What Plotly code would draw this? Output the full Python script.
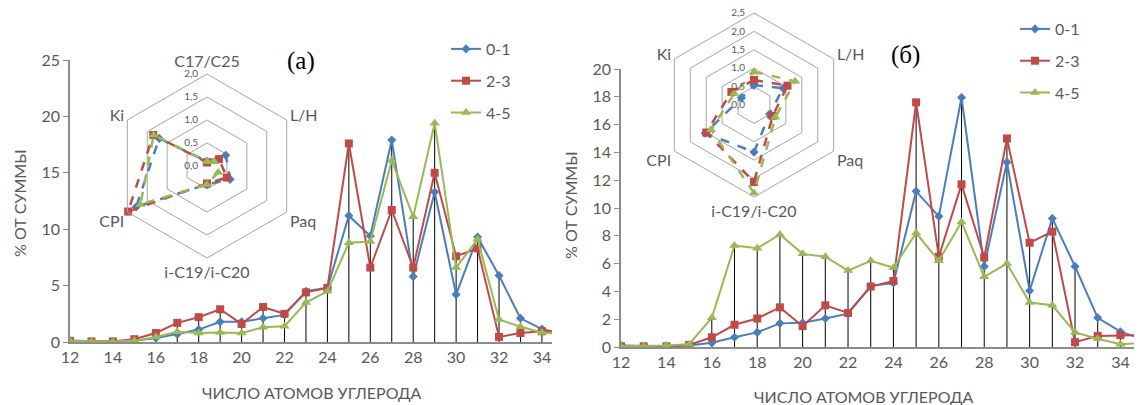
import plotly.graph_objects as go

# window 1142x405; the page body has an 8px margin, so the figure is 8px smaller
WIN_W, WIN_H = 1142, 405
OFF = 8
W, H = WIN_W - OFF, WIN_H - OFF

carbon = list(range(12, 36))

# Panel (a)
a_01 = [0.1, 0.05, 0.05, 0.1, 0.35, 0.7, 1.1, 1.8, 1.8, 2.1, 2.4, 4.5, 4.8, 11.2, 9.4, 17.9, 5.8, 13.3, 4.2, 9.3, 5.9, 2.1, 1.15, 0.75]
a_23 = [0.1, 0.05, 0.05, 0.25, 0.8, 1.7, 2.2, 2.9, 1.6, 3.1, 2.5, 4.4, 4.8, 17.6, 6.6, 11.7, 6.6, 15.0, 7.6, 8.3, 0.45, 0.8, 0.95, 0.9]
a_45 = [0.1, 0.05, 0.05, 0.1, 0.45, 0.9, 0.8, 0.85, 0.8, 1.3, 1.4, 3.5, 4.5, 8.8, 8.9, 16.1, 11.1, 19.4, 6.6, 9.1, 2.0, 1.35, 0.85, 0.7]

# Panel (б)
b_01 = [0.1, 0.05, 0.05, 0.1, 0.3, 0.7, 1.05, 1.7, 1.75, 2.05, 2.4, 4.4, 4.6, 11.2, 9.4, 17.95, 5.8, 13.3, 4.05, 9.25, 5.8, 2.1, 1.1, 0.55]
b_23 = [0.05, 0.05, 0.05, 0.15, 0.7, 1.6, 2.05, 2.85, 1.5, 3.0, 2.45, 4.35, 4.75, 17.6, 6.5, 11.7, 6.45, 15.0, 7.5, 8.3, 0.35, 0.8, 0.85, 0.85]
b_45 = [0.05, 0.05, 0.1, 0.2, 2.1, 7.3, 7.1, 8.1, 6.7, 6.5, 5.5, 6.2, 5.7, 8.2, 6.2, 9.0, 5.05, 6.0, 3.2, 3.0, 1.05, 0.6, 0.2, 0.3]

series_names = ["0-1", "2-3", "4-5"]

# Radar
radar_axes = ["C17/C25", "L/H", "Paq", "i-C19/i-C20", "CPI", "Ki"]
# panel (б): the top label lies outside the cropped picture
radar_labels_b = ["", "L/H", "Paq", "i-C19/i-C20", "CPI", "Ki"]
ra_01 = [0.1, 0.47, 0.58, 0.4, 1.78, 1.2]
ra_23 = [0.08, 0.3, 0.5, 0.38, 1.98, 1.35]
ra_45 = [0.1, 0.18, 0.28, 0.4, 1.67, 1.34]
rb_01 = [0.54, 0.91, 0.49, 1.28, 1.53, 0.39]
rb_23 = [0.68, 1.05, 0.59, 2.09, 1.5, 0.71]
rb_45 = [0.9, 1.29, 0.67, 2.39, 1.35, 0.62]

a_ticks = [0, 5, 10, 15, 20, 25]
b_ticks = [0, 2, 4, 6, 8, 10, 12, 14, 16, 18, 20]
x_ticks = list(range(12, 35, 2))
ra_ticks = [0, 0.5, 1.0, 1.5, 2.0]
rb_ticks = [0, 0.5, 1.0, 1.5, 2.0, 2.5]

colors = ["#4A7EBB", "#BE4B48", "#98B954"]
symbols = ["diamond", "square", "triangle-up"]
msizes = [7, 8, 9]
FONT = "Lato"
GREY = "#595959"


def px_x(p):
    return (p - OFF) / W


def px_y(p):
    return 1 - (p - OFF) / H


fig = go.Figure()


def drop_trace(xs, series, xa, ya):
    dx, dy = [], []
    for i, x in enumerate(xs):
        m = max(s[i] for s in series)
        dx += [x, x, None]
        dy += [0, m, None]
    return go.Scatter(x=dx, y=dy, mode="lines", line=dict(color="black", width=1),
                      xaxis=xa, yaxis=ya, showlegend=False, hoverinfo="skip")


fig.add_trace(drop_trace(carbon, [a_01, a_23, a_45], "x", "y"))
fig.add_trace(drop_trace(carbon, [b_01, b_23, b_45], "x2", "y2"))

for i, s in enumerate([a_01, a_23, a_45]):
    fig.add_trace(go.Scatter(x=carbon, y=s, mode="lines+markers", name=series_names[i],
                             line=dict(color=colors[i], width=2),
                             marker=dict(symbol=symbols[i], size=msizes[i], color=colors[i]),
                             xaxis="x", yaxis="y", legend="legend", legendgroup="a" + str(i)))
for i, s in enumerate([b_01, b_23, b_45]):
    fig.add_trace(go.Scatter(x=carbon, y=s, mode="lines+markers", name=series_names[i],
                             line=dict(color=colors[i], width=2),
                             marker=dict(symbol=symbols[i], size=msizes[i], color=colors[i]),
                             xaxis="x2", yaxis="y2", legend="legend2", legendgroup="b" + str(i)))

for i, s in enumerate([ra_01, ra_23, ra_45]):
    fig.add_trace(go.Scatterpolar(r=s + [s[0]], theta=radar_axes + [radar_axes[0]],
                                  mode="lines+markers", subplot="polar", showlegend=False,
                                  line=dict(color=colors[i], width=2.5, dash="dash"),
                                  marker=dict(symbol=symbols[i], size=msizes[i], color=colors[i])))
for i, s in enumerate([rb_01, rb_23, rb_45]):
    fig.add_trace(go.Scatterpolar(r=s + [s[0]], theta=radar_axes + [radar_axes[0]],
                                  mode="lines+markers", subplot="polar2", showlegend=False,
                                  line=dict(color=colors[i], width=2.5, dash="dash"),
                                  marker=dict(symbol=symbols[i], size=msizes[i], color=colors[i])))

tickfont = dict(family=FONT, size=16, color=GREY)

xcommon = dict(tickvals=x_ticks, showgrid=False, zeroline=False, showline=True, automargin=False,
               linecolor="#8C8C8C", linewidth=1.5, ticks="", tickfont=tickfont)
ycommon = dict(showgrid=False, zeroline=False, showline=True, linecolor="#8C8C8C", automargin=False,
               linewidth=1.5, ticks="outside", ticklen=5, tickcolor="#8C8C8C", tickfont=tickfont)


def radial(ticks, rng):
    return dict(range=rng, tickvals=ticks, ticktext=[f"{t:.1f}".replace(".", ",") for t in ticks],
                showline=False, ticks="outside", ticklen=5, tickcolor="rgba(0,0,0,0)",
                angle=90, tickangle=90, side="counterclockwise",
                showgrid=True, gridcolor="#A6A6A6", gridwidth=1,
                tickfont=dict(family=FONT, size=10, color=GREY))


def angular(labels):
    return dict(type="category", categoryarray=radar_axes, tickmode="array",
                tickvals=radar_axes, ticktext=labels,
                rotation=90, direction="clockwise", showgrid=False, showline=True,
                linecolor="#A6A6A6", linewidth=1, ticks="",
                tickfont=dict(family=FONT, size=16, color=GREY))


def ann(text, x, y, size=16, family=FONT, color=GREY, angle=0):
    return dict(text=text, x=px_x(x), y=px_y(y), xref="paper", yref="paper",
                xanchor="center", yanchor="middle", textangle=angle, showarrow=False,
                font=dict(family=family, size=size, color=color))


fig.update_layout(
    template="none",
    width=W, height=H, margin=dict(l=0, r=0, t=0, b=0, autoexpand=False),
    paper_bgcolor="white", plot_bgcolor="rgba(0,0,0,0)",
    xaxis=dict(domain=[px_x(70), px_x(552)], range=[12, 34.47], anchor="y", **xcommon),
    yaxis=dict(domain=[px_y(342), px_y(60)], range=[0, 25], tickvals=a_ticks, anchor="x", **ycommon),
    xaxis2=dict(domain=[px_x(621), 1.0], range=[12, 34.95], anchor="y2", **xcommon),
    yaxis2=dict(domain=[px_y(347), px_y(69)], range=[0, 20], tickvals=b_ticks, anchor="x2", **ycommon),
    polar=dict(domain=dict(x=[px_x(115), px_x(299)], y=[px_y(258), px_y(74)]),
               bgcolor="rgba(0,0,0,0)", gridshape="linear",
               radialaxis=radial(ra_ticks, [0, 2.0]), angularaxis=angular(radar_axes)),
    polar2=dict(domain=dict(x=[px_x(662), px_x(846)], y=[px_y(197), px_y(13)]),
                bgcolor="rgba(0,0,0,0)", gridshape="linear",
                radialaxis=radial(rb_ticks, [0, 2.5]), angularaxis=angular(radar_labels_b)),
    legend=dict(x=px_x(446), y=px_y(32), xanchor="left", yanchor="top",
                bgcolor="rgba(0,0,0,0)", font=dict(family=FONT, size=16, color=GREY),
                tracegroupgap=8, itemwidth=30),
    legend2=dict(x=px_x(1015), y=px_y(12), xanchor="left", yanchor="top",
                 bgcolor="rgba(0,0,0,0)", font=dict(family=FONT, size=16, color=GREY),
                 tracegroupgap=8, itemwidth=30),
    annotations=[
        ann("% ОТ СУММЫ", 19, 203, angle=-90),
        ann("% ОТ СУММЫ", 570, 205, angle=-90),
        ann("ЧИСЛО АТОМОВ УГЛЕРОДА", 312, 392),
        ann("ЧИСЛО АТОМОВ УГЛЕРОДА", 864, 396),
        ann("(a)", 301, 61, size=25, family="Liberation Serif", color="black"),
        ann("(б)", 905, 55, size=25, family="Liberation Serif", color="black"),
    ],
)

fig.write_html("out.html")
